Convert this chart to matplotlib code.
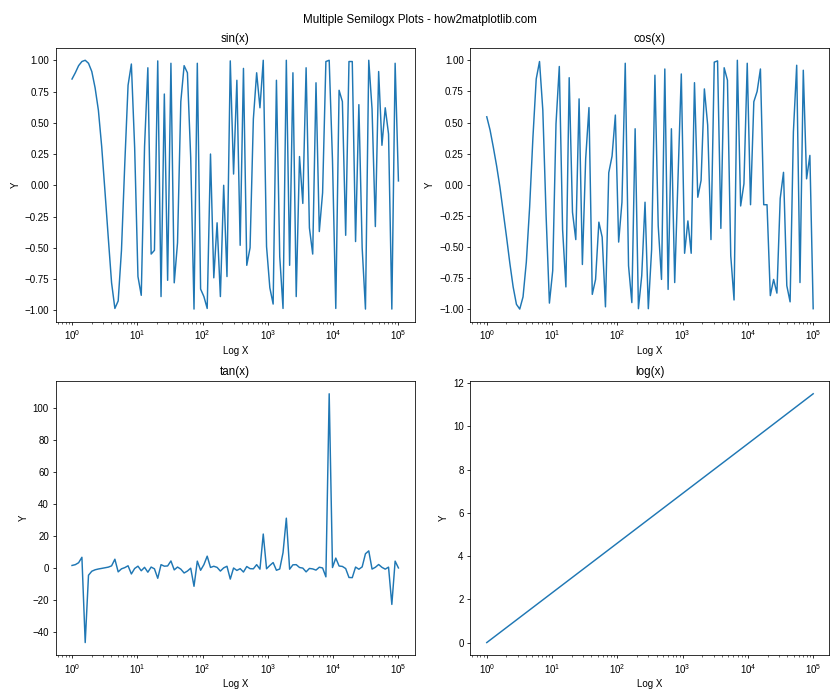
import numpy as np
import matplotlib
matplotlib.use('Agg')
from matplotlib import pyplot as plt

plt.rcParams['font.family'] = ['Liberation Sans', 'DejaVu Sans']

# values, 100 samples spaced evenly in log x from 1 to 1e5
sin_vals = [0.85, 0.90, 0.957, 0.99, 1.00, 0.976, 0.91, 0.78, 0.60, 0.31,
            -0.05, -0.42, -0.78, -0.985, -0.925, -0.52, 0.17, 0.80, 0.97, 0.30,
            -0.73, -0.88, 0.31, 0.94, -0.55, -0.52, 0.995, -0.89, 0.73, -0.76,
            0.976, -0.78, -0.46, 0.67, 0.957, 0.90, 0.22, -0.99, 0.976, -0.83,
            -0.89, -0.985, 0.25, -0.74, -0.30, -0.89, 0.00, -0.73, 0.995, 0.09,
            0.84, -0.48, 0.935, -0.64, -0.50, 0.53, 0.90, 0.62, 1.00, -0.49,
            -0.82, -0.95, 0.84, -0.57, -0.985, 1.00, -0.64, 0.90, -0.89, 0.23,
            -0.145, 0.94, -0.34, -0.55, 0.82, -0.37, -0.06, 0.99, 1.00, 0.20,
            -0.985, 0.76, 0.67, -0.40, 0.99, 0.99, -0.45, 0.645, -0.50, -0.99,
            1.00, 0.61, -0.33, 0.91, 0.32, 0.62, 0.41, -0.99, 0.976, 0.035]

cos_vals = [0.546, 0.44, 0.30, 0.15, -0.02, -0.22, -0.42, -0.63, -0.82, -0.96,
            -0.998, -0.90, -0.62, -0.18, 0.38, 0.85, 0.99, 0.60, -0.25, -0.95,
            -0.69, 0.49, 0.95, -0.36, -0.82, 0.86, -0.22, -0.44, 0.69, -0.64,
            0.21, 0.62, -0.88, -0.76, -0.30, -0.42, -0.98, 0.097, 0.23, 0.56,
            -0.46, -0.14, 0.976, -0.65, -0.946, 0.45, -0.995, -0.73, -0.14, -0.995,
            -0.52, 0.88, -0.33, -0.76, 0.93, -0.84, 0.45, -0.785, 0.05, 0.89,
            -0.55, -0.29, -0.55, 0.82, -0.10, 0.035, 0.77, 0.48, -0.44, 0.985,
            0.995, -0.35, 0.94, 0.84, -0.57, -0.925, 1.00, -0.17, 0.008, 0.976,
            -0.16, 0.667, 0.75, 0.93, -0.16, -0.16, -0.89, -0.76, -0.87, -0.11,
            0.10, -0.81, -0.94, 0.425, 0.96, -0.785, 0.92, 0.048, 0.236, -0.995]

tan_vals = [1.5, 2.0, 3.2, 6.6, -46.6, -4.6, -2.1, -1.2, -0.7, -0.33,
            0.06, 0.45, 1.25, 5.4, -2.5, -0.6, 0.15, 1.3, -3.8, -0.4,
            1.05, -1.8, 0.33, -2.7, 0.5, -0.6, -6.5, 2.0, 1.05, 1.2,
            4.3, -1.26, 0.5, -0.8, -3.2, -2.0, -0.2, -11.5, 4.2, -1.5,
            2.0, 7.3, 0.26, 1.0, 0.3, -2.0, 0.0, 1.0, -7.0, -0.09,
            -1.6, -0.5, -2.6, 0.84, -0.5, -0.6, 2.0, -0.8, 21.1, -0.55,
            1.5, 3.3, -1.5, -0.7, 9.5, 31.0, -0.83, 1.9, 2.0, 0.23,
            -0.15, -2.5, -0.36, -0.65, -1.4, 0.4, -0.06, -5.6, 108.6, 0.2,
            6.1, 1.15, 0.9, -0.43, -6.0, -6.1, 0.5, -0.85, 0.6, 8.8,
            10.6, -0.75, 0.35, 2.1, 0.33, -0.8, 0.45, -22.8, 4.2, -0.04]

# log(x) is a straight line on the log axis, read at each decade
log_x = [1, 10, 100, 1000, 10000, 100000]
log_vals = [0.0, 2.3, 4.6, 6.9, 9.2, 11.51]

titles = ['sin(x)', 'cos(x)', 'tan(x)', 'log(x)']

x = np.logspace(0, 5, len(sin_vals))

fig, axs = plt.subplots(2, 2, figsize=(12, 10), dpi=70)
fig.suptitle('Multiple Semilogx Plots - how2matplotlib.com')

series = [(x, sin_vals), (x, cos_vals), (x, tan_vals), (log_x, log_vals)]
for ax, (xs, ys), title in zip(axs.flat, series, titles):
    ax.semilogx(xs, ys)
    ax.set_title(title)
    ax.set_xlabel('Log X')
    ax.set_ylabel('Y')

plt.tight_layout()
plt.savefig('out.png')
